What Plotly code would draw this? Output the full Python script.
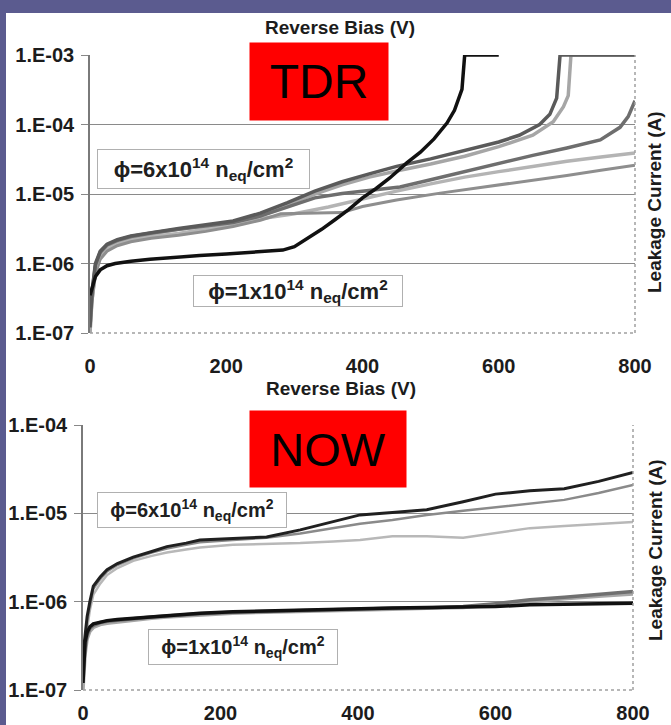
import plotly.graph_objects as go

W, H = 671, 725

# ---------------- TDR panel data (reverse bias in V, leakage current in A) ----------------
v_tdr_1e14 = [0, 3, 8, 15, 25, 37, 60, 88, 120, 161, 200, 235, 260, 283, 300, 320, 340,
              360, 380, 400, 420, 440, 465, 485, 505, 524, 535, 546, 550, 575, 600]
i_tdr_1e14 = [3.5e-7, 4.6e-7, 6.5e-7, 8.1e-7, 9.3e-7, 1.0e-6, 1.08e-6, 1.15e-6, 1.22e-6, 1.3e-6,
              1.37e-6, 1.45e-6, 1.5e-6, 1.56e-6, 1.75e-6, 2.3e-6, 3.1e-6, 4.3e-6, 6.0e-6, 8.8e-6,
              1.2e-5, 1.7e-5, 2.8e-5, 4.0e-5, 6.2e-5, 1.05e-4, 1.6e-4, 3.2e-4, 1.0e-3, 1.0e-3, 1.0e-3]

v_tdr_a1 = [0, 3, 8, 15, 25, 40, 60, 90, 130, 170, 210, 250, 290, 330, 370, 410, 450, 500,
            550, 600, 630, 660, 675, 685, 690, 720, 760, 800]
i_tdr_a1 = [1.2e-7, 4e-7, 1.0e-6, 1.5e-6, 1.9e-6, 2.2e-6, 2.5e-6, 2.8e-6, 3.2e-6, 3.6e-6, 4.1e-6,
            5.3e-6, 7.5e-6, 1.1e-5, 1.5e-5, 1.95e-5, 2.5e-5, 3.2e-5, 4.2e-5, 5.6e-5, 7.0e-5,
            1.0e-4, 1.4e-4, 2.4e-4, 1.0e-3, 1.0e-3, 1.0e-3, 1.0e-3]

v_tdr_a2 = [0, 3, 8, 15, 25, 40, 60, 90, 130, 170, 210, 250, 290, 330, 370, 410, 455, 500,
            550, 600, 650, 680, 695, 702, 706, 740, 800]
i_tdr_a2 = [1.0e-7, 3.5e-7, 9e-7, 1.4e-6, 1.8e-6, 2.1e-6, 2.4e-6, 2.7e-6, 3.1e-6, 3.5e-6, 4.0e-6,
            5.0e-6, 7.0e-6, 1.0e-5, 1.35e-5, 1.75e-5, 2.2e-5, 2.7e-5, 3.5e-5, 4.8e-5, 7.0e-5,
            1.1e-4, 1.8e-4, 2.6e-4, 1.0e-3, 1.0e-3, 1.0e-3]

v_tdr_b = [0, 3, 8, 15, 25, 40, 60, 90, 130, 170, 210, 250, 290, 330, 370, 410, 455, 500,
           550, 602, 650, 700, 749, 778, 790, 800]
i_tdr_b = [1.5e-7, 3.8e-7, 9.5e-7, 1.45e-6, 1.85e-6, 2.15e-6, 2.45e-6, 2.75e-6, 3.1e-6, 3.5e-6,
           3.9e-6, 4.8e-6, 6.5e-6, 8.8e-6, 1.02e-5, 1.12e-5, 1.26e-5, 1.6e-5, 2.1e-5, 2.8e-5,
           3.6e-5, 4.6e-5, 6.0e-5, 9.1e-5, 1.3e-4, 2.2e-4]

v_tdr_c = [0, 3, 8, 15, 25, 40, 60, 90, 130, 170, 210, 250, 300, 350, 400, 450, 500, 550,
           600, 650, 700, 750, 800]
i_tdr_c = [1.0e-7, 3.0e-7, 8e-7, 1.25e-6, 1.6e-6, 1.9e-6, 2.2e-6, 2.45e-6, 2.7e-6, 3.1e-6, 3.6e-6,
           4.4e-6, 5.2e-6, 6.5e-6, 8.5e-6, 1.1e-5, 1.4e-5, 1.75e-5, 2.1e-5, 2.5e-5, 2.95e-5,
           3.4e-5, 3.9e-5]

v_tdr_d = [0, 3, 8, 15, 25, 40, 60, 90, 130, 170, 210, 250, 280, 320, 370, 400, 450, 514,
           550, 600, 650, 700, 750, 800]
i_tdr_d = [1.1e-7, 2.8e-7, 7e-7, 1.15e-6, 1.5e-6, 1.8e-6, 2.05e-6, 2.3e-6, 2.55e-6, 2.9e-6,
           3.4e-6, 4.2e-6, 5.2e-6, 5.3e-6, 5.4e-6, 6.6e-6, 8.2e-6, 1.03e-5, 1.15e-5, 1.35e-5,
           1.6e-5, 1.85e-5, 2.2e-5, 2.6e-5]

# ---------------- NOW panel data ----------------
v_now = [0, 3, 6, 10, 15, 25, 35, 50, 73, 100, 122, 150, 170, 218, 267, 316, 364, 403,
         450, 500, 553, 600, 650, 700, 750, 800]

i_now_6e14_k = [2.5e-7, 4e-7, 6.8e-7, 1.0e-6, 1.5e-6, 1.9e-6, 2.3e-6, 2.7e-6, 3.2e-6, 3.7e-6,
                4.2e-6, 4.6e-6, 5.0e-6, 5.2e-6, 5.4e-6, 6.5e-6, 8.0e-6, 9.6e-6, 1.02e-5, 1.1e-5,
                1.35e-5, 1.65e-5, 1.8e-5, 1.9e-5, 2.3e-5, 2.9e-5]
i_now_6e14_g = [2e-7, 3.5e-7, 6e-7, 9e-7, 1.4e-6, 1.8e-6, 2.2e-6, 2.6e-6, 3.1e-6, 3.6e-6,
                4.0e-6, 4.4e-6, 4.7e-6, 5.0e-6, 5.3e-6, 5.9e-6, 6.8e-6, 7.6e-6, 8.4e-6, 9.6e-6,
                1.07e-5, 1.17e-5, 1.28e-5, 1.42e-5, 1.7e-5, 2.1e-5]
i_now_6e14_l = [1.5e-7, 3e-7, 5e-7, 8e-7, 1.2e-6, 1.6e-6, 2.0e-6, 2.4e-6, 2.9e-6, 3.3e-6,
                3.6e-6, 3.9e-6, 4.1e-6, 4.4e-6, 4.5e-6, 4.6e-6, 4.8e-6, 5.0e-6, 5.5e-6, 5.5e-6,
                5.3e-6, 6.0e-6, 6.8e-6, 7.2e-6, 7.6e-6, 8.0e-6]

i_now_1e14_k = [1.2e-7, 3.5e-7, 4.5e-7, 5.2e-7, 5.6e-7, 5.9e-7, 6.1e-7, 6.3e-7, 6.5e-7, 6.8e-7,
                7.0e-7, 7.2e-7, 7.4e-7, 7.7e-7, 7.9e-7, 8.1e-7, 8.2e-7, 8.4e-7, 8.5e-7, 8.6e-7,
                8.7e-7, 8.8e-7, 9.2e-7, 9.4e-7, 9.5e-7, 9.6e-7]
i_now_1e14_d = [1.5e-7, 3.0e-7, 4.2e-7, 5.0e-7, 5.4e-7, 5.8e-7, 6.0e-7, 6.2e-7, 6.4e-7, 6.7e-7,
                6.9e-7, 7.1e-7, 7.3e-7, 7.6e-7, 7.8e-7, 8.0e-7, 8.1e-7, 8.3e-7, 8.4e-7, 8.5e-7,
                8.8e-7, 9.5e-7, 1.05e-6, 1.12e-6, 1.2e-6, 1.3e-6]
i_now_1e14_g = [1.0e-7, 2.5e-7, 3.8e-7, 4.6e-7, 5.1e-7, 5.5e-7, 5.7e-7, 5.9e-7, 6.2e-7, 6.5e-7,
                6.7e-7, 6.9e-7, 7.1e-7, 7.4e-7, 7.6e-7, 7.8e-7, 8.0e-7, 8.1e-7, 8.2e-7, 8.4e-7,
                8.6e-7, 9.2e-7, 1.0e-6, 1.08e-6, 1.15e-6, 1.22e-6]

x_ticks = [0, 200, 400, 600, 800]
x_ticktext = ["0", "200", "400", "600", "800"]
y_ticks_tdr = [1e-7, 1e-6, 1e-5, 1e-4, 1e-3]
y_ticktext_tdr = ["1.E-07", "1.E-06", "1.E-05", "1.E-04", "1.E-03"]
y_ticks_now = [1e-7, 1e-6, 1e-5, 1e-4]
y_ticktext_now = ["1.E-07", "1.E-06", "1.E-05", "1.E-04"]

FONT = "Liberation Sans, Arial, sans-serif"
TXT = "#1c1c1c"
GRID = "#8a8a8a"


def px_x(p):
    return p / W


def px_y(p):
    return 1 - p / H


fig = go.Figure()


def add_curve(v, i, color, width, xa, ya):
    fig.add_trace(go.Scatter(x=v, y=i, mode="lines", xaxis=xa, yaxis=ya,
                             line=dict(color=color, width=width), hoverinfo="skip",
                             showlegend=False))


# TDR curves (lighter first so darker ones sit on top)
add_curve(v_tdr_c, i_tdr_c, "#b4b4b4", 3.5, "x", "y")
add_curve(v_tdr_d, i_tdr_d, "#8e8e8e", 3, "x", "y")
add_curve(v_tdr_a2, i_tdr_a2, "#a6a6a6", 3.5, "x", "y")
add_curve(v_tdr_b, i_tdr_b, "#6e6e6e", 3.5, "x", "y")
add_curve(v_tdr_a1, i_tdr_a1, "#5a5a5a", 3.5, "x", "y")
add_curve(v_tdr_1e14, i_tdr_1e14, "#111111", 3.5, "x", "y")

# NOW curves
add_curve(v_now, i_now_6e14_l, "#b8b8b8", 2.5, "x2", "y2")
add_curve(v_now, i_now_6e14_g, "#8a8a8a", 2.5, "x2", "y2")
add_curve(v_now, i_now_6e14_k, "#202020", 3, "x2", "y2")
add_curve(v_now, i_now_1e14_g, "#a8a8a8", 3.5, "x2", "y2")
add_curve(v_now, i_now_1e14_d, "#707070", 3.5, "x2", "y2")
add_curve(v_now, i_now_1e14_k, "#111111", 3.5, "x2", "y2")

tick_font = dict(family=FONT, size=20, color=TXT, weight="bold")


def bottom_xaxis(dom, standoff):
    return dict(domain=dom, range=[0, 800], tickvals=x_ticks, ticktext=x_ticktext,
                ticks="", showgrid=False, zeroline=False, showline=False, automargin=False,
                tickfont=tick_font, ticklabelstandoff=standoff, fixedrange=True)


def top_xaxis(over, anchor):
    return dict(overlaying=over, anchor=anchor, side="top", range=[0, 800],
                tickvals=x_ticks, ticks="inside", ticklen=6, tickcolor="#777777",
                showticklabels=False, showgrid=False, zeroline=False, automargin=False,
                showline=True, linecolor="#7a7a7a", linewidth=1)


def log_yaxis(dom, rng, vals, text, anchor):
    return dict(domain=dom, type="log", range=rng, tickvals=vals, ticktext=text,
                anchor=anchor, ticks="outside", ticklen=7, tickcolor="#888888",
                showgrid=True, gridcolor=GRID, gridwidth=1, zeroline=False,
                showline=True, linecolor="#7a7a7a", linewidth=1.5, automargin=False,
                tickfont=tick_font, ticklabelstandoff=3, fixedrange=True)


tdr_x = [px_x(90), px_x(635)]
tdr_y = [px_y(333), px_y(55)]
now_x = [px_x(83), px_x(633)]
now_y = [px_y(690), px_y(425)]

fig.update_layout(
    width=W, height=H,
    autosize=False,
    margin=dict(l=0, r=0, t=0, b=0, pad=0, autoexpand=False),
    paper_bgcolor="#5b5b8f",
    plot_bgcolor="#ffffff",
    showlegend=False,
    xaxis=dict(anchor="y", **bottom_xaxis(tdr_x, 19)),
    yaxis=log_yaxis(tdr_y, [-7, -3], y_ticks_tdr, y_ticktext_tdr, "x"),
    xaxis2=dict(anchor="y2", **bottom_xaxis(now_x, 9)),
    yaxis2=log_yaxis(now_y, [-7, -4], y_ticks_now, y_ticktext_now, "x2"),
    xaxis3=top_xaxis("x", "y"),
    xaxis4=top_xaxis("x2", "y2"),
)

shapes = [
    # white slide panel behind both charts
    dict(type="rect", xref="paper", yref="paper", x0=px_x(6), x1=1, y0=0, y1=px_y(13),
         fillcolor="#ffffff", line=dict(width=0), layer="below"),
]
for xd, yd in (("x domain", "y domain"), ("x2 domain", "y2 domain")):
    # dotted plot-area border on the right and bottom
    shapes.append(dict(type="line", xref=xd, yref=yd, x0=1, x1=1, y0=0, y1=1,
                       line=dict(color="#a0a0a0", width=1.5, dash="dot")))
    shapes.append(dict(type="line", xref=xd, yref=yd, x0=0, x1=1, y0=0, y1=0,
                       line=dict(color="#a0a0a0", width=1.5, dash="dot")))
fig.update_layout(shapes=shapes)

title_font = dict(family=FONT, size=19, color=TXT, weight="bold")
ann = [
    dict(text="Reverse Bias (V)", x=px_x(340), y=px_y(28), font=title_font),
    dict(text="Reverse Bias (V)", x=px_x(341), y=px_y(388), font=title_font),
    dict(text="Leakage Current (A)", x=px_x(655), y=px_y(202), font=title_font, textangle=-90),
    dict(text="Leakage Current (A)", x=px_x(655), y=px_y(550), font=title_font, textangle=-90),
    dict(text="TDR", x=px_x(319), y=px_y(81.5), bgcolor="#ff0000", width=138, height=77,
         borderpad=0, font=dict(family=FONT, size=48, color="#000000")),
    dict(text="NOW", x=px_x(328), y=px_y(449), bgcolor="#ff0000", width=156, height=76,
         borderpad=0, font=dict(family=FONT, size=47, color="#000000")),
]
phi6 = "ϕ=6x10<sup>14</sup> n<sub>eq</sub>/cm<sup>2</sup>"
phi1 = "ϕ=1x10<sup>14</sup> n<sub>eq</sub>/cm<sup>2</sup>"
for text, cx, cy, bw, bh, fs in ((phi6, 203.5, 169, 213, 40, 22), (phi1, 298, 291, 210, 32, 22),
                                 (phi6, 192, 510, 190, 36, 20), (phi1, 243, 647, 190, 36, 20)):
    ann.append(dict(text=text, x=px_x(cx), y=px_y(cy), width=bw - 2, height=bh - 2,
                    bgcolor="#ffffff", bordercolor="#b0b0b0", borderwidth=1, borderpad=0,
                    font=dict(family=FONT, size=fs, color="#202020", weight="bold")))
for a in ann:
    a.update(xref="paper", yref="paper", showarrow=False, xanchor="center", yanchor="middle")
fig.update_layout(annotations=ann)

fig.write_html("out.html")
